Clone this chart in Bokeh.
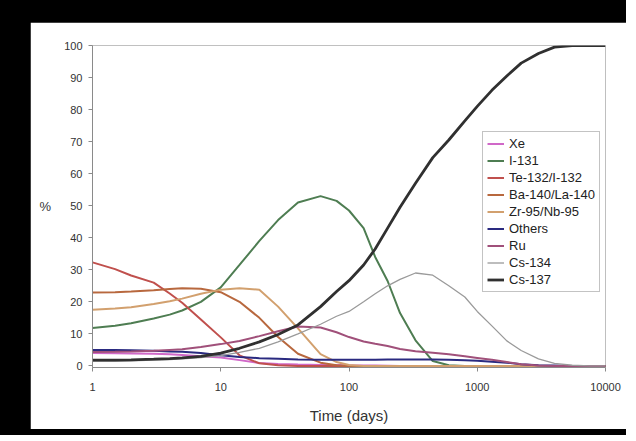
from bokeh.plotting import figure
from bokeh.models import Legend, LegendItem, FixedTicker, Range1d, CustomJSTickFormatter
from bokeh.layouts import column
from bokeh.embed import file_html
from bokeh.resources import INLINE

# ---- data ----
time_days = [1, 1.5, 2, 3, 4, 5, 7, 10, 14, 20, 28, 40, 60, 80, 100, 130, 160, 200,
             250, 330, 450, 600, 800, 1000, 1300, 1700, 2200, 3000, 4000, 5500, 7500, 10000]

xe = [4.0, 3.95, 3.9, 3.8, 3.6, 3.4, 3.0, 2.6, 1.8, 0.9, 0.6, 0.4, 0.3, 0.3, 0.2, 0.1,
      0.1, 0.05, 0, 0, 0, 0, 0, 0, 0, 0, 0, 0, 0, 0, 0, 0]
i131 = [11.8, 12.5, 13.3, 14.8, 16.0, 17.3, 20.0, 24.5, 31.5, 39.0, 45.5, 51.0, 53.0, 51.5,
        48.5, 43.0, 34.0, 26.5, 16.5, 8.0, 1.5, 0.2, 0, 0, 0, 0, 0, 0, 0, 0, 0, 0]
te132 = [32.3, 30.2, 28.2, 26.0, 22.6, 19.7, 14.5, 8.9, 3.3, 0.8, 0.2, 0, 0, 0, 0, 0,
         0, 0, 0, 0, 0, 0, 0, 0, 0, 0, 0, 0, 0, 0, 0, 0]
ba140 = [22.9, 23.0, 23.2, 23.6, 24.0, 24.2, 24.1, 23.0, 20.0, 15.0, 9.0, 3.8, 1.0, 0.2, 0, 0,
         0, 0, 0, 0, 0, 0, 0, 0, 0, 0, 0, 0, 0, 0, 0, 0]
zr95 = [17.5, 17.9, 18.3, 19.3, 20.2, 21.0, 22.5, 23.8, 24.2, 23.8, 18.5, 11.7, 3.7, 1.2, 0.3, 0,
        0, 0, 0, 0, 0, 0, 0, 0, 0, 0, 0, 0, 0, 0, 0, 0]
others = [5.0, 5.0, 4.9, 4.7, 4.5, 4.4, 4.0, 3.3, 2.8, 2.4, 2.2, 2.0, 1.9, 1.9, 1.9, 1.9,
          1.9, 2.0, 2.0, 2.0, 2.0, 1.9, 1.8, 1.6, 1.3, 1.0, 0.5, 0.2, 0.1, 0, 0, 0]
ru = [4.3, 4.4, 4.5, 4.7, 5.0, 5.2, 5.9, 6.8, 7.8, 9.3, 10.8, 12.3, 12.0, 10.5, 9.0, 7.6,
      6.9, 6.2, 5.3, 4.6, 4.1, 3.6, 3.0, 2.5, 1.9, 1.2, 0.5, 0.1, 0, 0, 0, 0]
cs134 = [1.5, 1.5, 1.6, 1.8, 2.0, 2.2, 2.6, 3.2, 4.2, 5.5, 7.5, 10.0, 13.0, 15.5, 17.0, 20.0,
         22.5, 25.0, 27.0, 29.0, 28.3, 25.0, 21.5, 17.0, 12.5, 7.8, 4.8, 2.2, 0.8, 0.2, 0, 0]
cs137 = [1.8, 1.8, 1.9, 2.1, 2.3, 2.5, 3.0, 4.0, 5.5, 7.5, 9.8, 12.8, 18.5, 23.2, 26.6, 31.5,
         36.5, 43.0, 49.5, 57.0, 65.0, 70.5, 76.5, 81.0, 86.0, 90.5, 94.5, 97.5, 99.5, 100, 100, 100]

series_names = ["Xe", "I-131", "Te-132/I-132", "Ba-140/La-140", "Zr-95/Nb-95",
                "Others", "Ru", "Cs-134", "Cs-137"]
series_values = [xe, i131, te132, ba140, zr95, others, ru, cs134, cs137]
series_colors = ["#D068C8", "#4E7D52", "#C0504D", "#B8683E", "#D2A06E",
                 "#2A2A80", "#A0507A", "#9A9A9A", "#303030"]
series_widths = [2, 2, 2, 2, 2, 2, 2, 1.3, 2.8]

y_ticks = list(range(0, 101, 10))
x_ticks = [1, 10, 100, 1000, 10000]

FONT = "Liberation Sans"

p = figure(width=596, height=407, x_axis_type="log",
           x_range=Range1d(1, 10000), y_range=Range1d(-0.5, 100),
           output_backend="svg", toolbar_location=None,
           min_border_left=62, min_border_right=21, min_border_top=23, min_border_bottom=62)
p.background_fill_color = "white"
p.border_fill_color = "white"
p.outline_line_color = None
p.xgrid.visible = False
p.ygrid.visible = False

items = []
for name, vals, col, w in zip(series_names, series_values, series_colors, series_widths):
    r = p.line(time_days, vals, line_color=col, line_width=w)
    items.append(LegendItem(label=name, renderers=[r]))

for ax in (p.xaxis[0], p.yaxis[0]):
    ax.axis_line_color = "#8a8a8a"
    ax.major_tick_line_color = "#8a8a8a"
    ax.minor_tick_line_color = None
    ax.major_tick_out = 4
    ax.major_tick_in = 0
    ax.major_label_text_font = FONT
    ax.major_label_text_font_size = "11px"
    ax.major_label_text_color = "#333333"
    ax.axis_label_text_font = FONT
    ax.axis_label_text_font_style = "normal"
    ax.axis_label_text_color = "#333333"

p.xaxis.ticker = FixedTicker(ticks=x_ticks)
p.xaxis.formatter = CustomJSTickFormatter(code="return Math.round(tick).toString();")
p.xaxis.major_label_standoff = 11
p.xaxis.axis_label = "Time (days)"
p.xaxis.axis_label_text_font_size = "15px"
p.xaxis.axis_label_standoff = 13

p.yaxis.ticker = FixedTicker(ticks=y_ticks)
p.yaxis.major_label_standoff = 6
p.yaxis.axis_label = "%"
p.yaxis.axis_label_text_font_size = "13px"
p.yaxis.axis_label_orientation = "horizontal"
p.yaxis.axis_label_standoff = 10

legend = Legend(items=items, location=(390, 75))
legend.label_text_font = FONT
legend.label_text_font_size = "13px"
legend.label_text_color = "#222222"
legend.label_height = 15
legend.glyph_height = 15
legend.glyph_width = 17
legend.label_standoff = 5
legend.spacing = 2
legend.padding = 4
legend.margin = 0
legend.border_line_color = "#888888"
legend.border_line_width = 1
legend.background_fill_color = "white"
legend.background_fill_alpha = 1
p.add_layout(legend, "center")

layout = column(p, styles={"background-color": "black",
                           "padding": "22px 0px 6px 30px"})

open("out.html", "w").write(file_html(layout, INLINE))
